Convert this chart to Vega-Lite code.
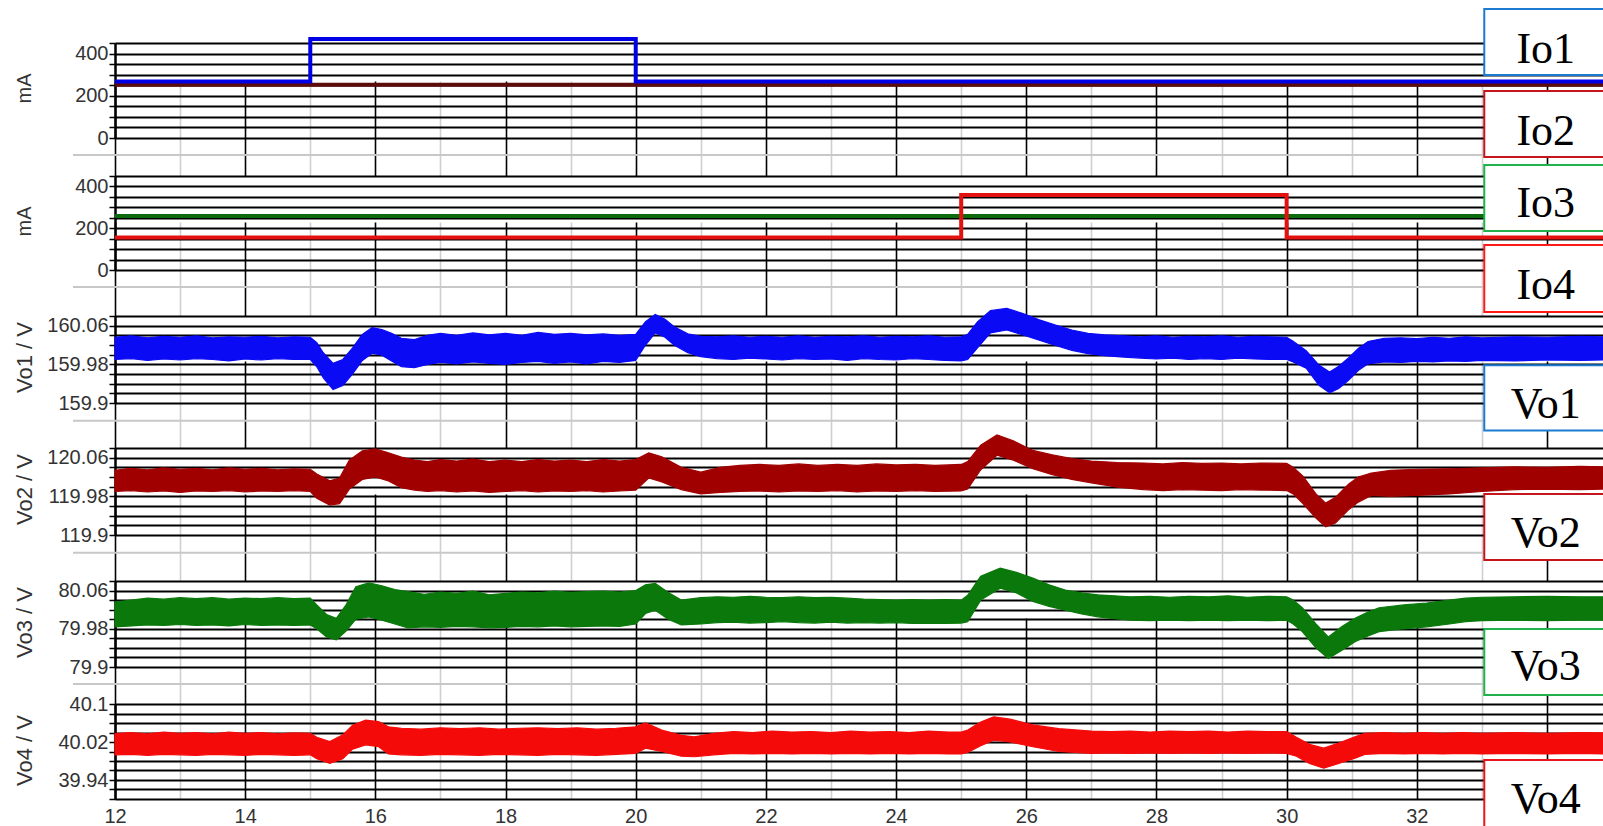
{
  "$schema": "https://vega.github.io/schema/vega-lite/v6.json",
  "autosize": {"type": "none"},
  "padding": {"left": 115, "top": 43, "right": 1488, "bottom": 783},
  "background": "white",
  "config": {
    "view": {"stroke": null},
    "axisY": {
      "grid": true, "gridColor": "#000", "gridWidth": 1.8,
      "domainColor": "#000", "domainWidth": 2.5,
      "tickColor": "#000", "tickWidth": 1.5, "tickSize": 6,
      "labelFont": "Liberation Sans, Arial, sans-serif",
      "labelFontSize": 20, "labelColor": "#333", "labelPadding": 1,
      "labelOverlap": false, "labelFlush": false,
      "titleFont": "Liberation Sans, Arial, sans-serif", "titleFontSize": 22,
      "titleFontWeight": "normal", "titleColor": "#333",
      "titleAngle": -90, "titleX": -101, "titleAlign": "center", "titleBaseline": "top"
    },
    "axisX": {
      "grid": true, "gridWidth": 1.6, "ticks": false, "tickSize": 0, "domain": false,
      "labelFont": "Liberation Sans, Arial, sans-serif",
      "labelFontSize": 20, "labelColor": "#333", "labelPadding": 7,
      "labelOverlap": false, "labelFlush": false, "format": "d"
    }
  },
  "datasets": {
    "cur": [
      {"s": "Io2", "t": 12, "v": 252}, {"s": "Io2", "t": 34.86, "v": 252},
      {"s": "Io1", "t": 12, "v": 268}, {"s": "Io1", "t": 15, "v": 469}, {"s": "Io1", "t": 20, "v": 268}, {"s": "Io1", "t": 34.86, "v": 268},
      {"s": "Io3", "t": 12, "v": 258}, {"s": "Io3", "t": 34.86, "v": 258},
      {"s": "Io4", "t": 12, "v": 156}, {"s": "Io4", "t": 25, "v": 359}, {"s": "Io4", "t": 30, "v": 156}, {"s": "Io4", "t": 34.86, "v": 156}
    ],
    "vo": [
      {"s":"Vo1","t":12,"lo":159.990,"hi":160.036},{"s":"Vo1","t":12.25,"lo":159.992,"hi":160.039},{"s":"Vo1","t":12.5,"lo":159.988,"hi":160.035},{"s":"Vo1","t":12.75,"lo":159.991,"hi":160.038},
      {"s":"Vo1","t":13,"lo":159.989,"hi":160.036},{"s":"Vo1","t":13.25,"lo":159.992,"hi":160.039},{"s":"Vo1","t":13.5,"lo":159.990,"hi":160.035},{"s":"Vo1","t":13.75,"lo":159.987,"hi":160.037},
      {"s":"Vo1","t":14,"lo":159.991,"hi":160.036},{"s":"Vo1","t":14.25,"lo":159.989,"hi":160.038},{"s":"Vo1","t":14.5,"lo":159.992,"hi":160.035},{"s":"Vo1","t":14.75,"lo":159.990,"hi":160.037},
      {"s":"Vo1","t":15,"lo":159.990,"hi":160.036},{"s":"Vo1","t":15.1,"lo":159.975,"hi":160.025},{"s":"Vo1","t":15.2,"lo":159.952,"hi":160.004},{"s":"Vo1","t":15.35,"lo":159.928,"hi":159.982},
      {"s":"Vo1","t":15.5,"lo":159.936,"hi":159.990},{"s":"Vo1","t":15.65,"lo":159.960,"hi":160.014},{"s":"Vo1","t":15.8,"lo":159.988,"hi":160.042},{"s":"Vo1","t":15.95,"lo":160.003,"hi":160.056},
      {"s":"Vo1","t":16.1,"lo":159.999,"hi":160.052},{"s":"Vo1","t":16.25,"lo":159.987,"hi":160.044},{"s":"Vo1","t":16.4,"lo":159.975,"hi":160.034},{"s":"Vo1","t":16.6,"lo":159.973,"hi":160.031},
      {"s":"Vo1","t":16.8,"lo":159.980,"hi":160.040},{"s":"Vo1","t":17,"lo":159.984,"hi":160.044},{"s":"Vo1","t":17.25,"lo":159.981,"hi":160.040},{"s":"Vo1","t":17.5,"lo":159.985,"hi":160.045},
      {"s":"Vo1","t":17.75,"lo":159.982,"hi":160.041},{"s":"Vo1","t":18,"lo":159.980,"hi":160.044},{"s":"Vo1","t":18.25,"lo":159.984,"hi":160.040},{"s":"Vo1","t":18.5,"lo":159.986,"hi":160.046},
      {"s":"Vo1","t":18.75,"lo":159.982,"hi":160.042},{"s":"Vo1","t":19,"lo":159.985,"hi":160.044},{"s":"Vo1","t":19.25,"lo":159.981,"hi":160.041},{"s":"Vo1","t":19.5,"lo":159.986,"hi":160.043},
      {"s":"Vo1","t":19.75,"lo":159.984,"hi":160.040},{"s":"Vo1","t":20,"lo":159.988,"hi":160.042},{"s":"Vo1","t":20.15,"lo":160.020,"hi":160.068},{"s":"Vo1","t":20.3,"lo":160.045,"hi":160.083},
      {"s":"Vo1","t":20.45,"lo":160.036,"hi":160.073},{"s":"Vo1","t":20.6,"lo":160.019,"hi":160.057},{"s":"Vo1","t":20.8,"lo":160.004,"hi":160.043},{"s":"Vo1","t":21,"lo":159.996,"hi":160.038},
      {"s":"Vo1","t":21.25,"lo":159.992,"hi":160.037},{"s":"Vo1","t":21.5,"lo":159.990,"hi":160.039},{"s":"Vo1","t":21.75,"lo":159.993,"hi":160.036},{"s":"Vo1","t":22,"lo":159.991,"hi":160.038},
      {"s":"Vo1","t":22.25,"lo":159.989,"hi":160.036},{"s":"Vo1","t":22.5,"lo":159.992,"hi":160.039},{"s":"Vo1","t":22.75,"lo":159.990,"hi":160.036},{"s":"Vo1","t":23,"lo":159.991,"hi":160.038},
      {"s":"Vo1","t":23.25,"lo":159.988,"hi":160.037},{"s":"Vo1","t":23.5,"lo":159.992,"hi":160.039},{"s":"Vo1","t":23.75,"lo":159.990,"hi":160.036},{"s":"Vo1","t":24,"lo":159.989,"hi":160.038},
      {"s":"Vo1","t":24.25,"lo":159.992,"hi":160.037},{"s":"Vo1","t":24.5,"lo":159.990,"hi":160.039},{"s":"Vo1","t":24.75,"lo":159.988,"hi":160.036},{"s":"Vo1","t":25,"lo":159.987,"hi":160.037},
      {"s":"Vo1","t":25.1,"lo":159.990,"hi":160.042},{"s":"Vo1","t":25.25,"lo":160.014,"hi":160.068},{"s":"Vo1","t":25.45,"lo":160.045,"hi":160.091},{"s":"Vo1","t":25.7,"lo":160.051,"hi":160.096},
      {"s":"Vo1","t":25.95,"lo":160.041,"hi":160.085},{"s":"Vo1","t":26.2,"lo":160.030,"hi":160.072},{"s":"Vo1","t":26.45,"lo":160.019,"hi":160.061},{"s":"Vo1","t":26.7,"lo":160.009,"hi":160.051},
      {"s":"Vo1","t":26.95,"lo":160.002,"hi":160.044},{"s":"Vo1","t":27.2,"lo":159.998,"hi":160.041},{"s":"Vo1","t":27.5,"lo":159.995,"hi":160.039},{"s":"Vo1","t":27.75,"lo":159.993,"hi":160.037},
      {"s":"Vo1","t":28,"lo":159.991,"hi":160.039},{"s":"Vo1","t":28.25,"lo":159.993,"hi":160.036},{"s":"Vo1","t":28.5,"lo":159.990,"hi":160.038},{"s":"Vo1","t":28.75,"lo":159.992,"hi":160.037},
      {"s":"Vo1","t":29,"lo":159.990,"hi":160.039},{"s":"Vo1","t":29.25,"lo":159.993,"hi":160.036},{"s":"Vo1","t":29.5,"lo":159.991,"hi":160.038},{"s":"Vo1","t":29.75,"lo":159.990,"hi":160.037},
      {"s":"Vo1","t":30,"lo":159.990,"hi":160.036},{"s":"Vo1","t":30.1,"lo":159.985,"hi":160.028},{"s":"Vo1","t":30.3,"lo":159.972,"hi":160.008},{"s":"Vo1","t":30.5,"lo":159.936,"hi":159.978},
      {"s":"Vo1","t":30.66,"lo":159.921,"hi":159.964},{"s":"Vo1","t":30.8,"lo":159.930,"hi":159.976},{"s":"Vo1","t":30.95,"lo":159.947,"hi":159.993},{"s":"Vo1","t":31.1,"lo":159.967,"hi":160.013},
      {"s":"Vo1","t":31.25,"lo":159.981,"hi":160.027},{"s":"Vo1","t":31.5,"lo":159.985,"hi":160.034},{"s":"Vo1","t":31.75,"lo":159.984,"hi":160.035},{"s":"Vo1","t":32,"lo":159.986,"hi":160.033},
      {"s":"Vo1","t":32.25,"lo":159.985,"hi":160.036},{"s":"Vo1","t":32.5,"lo":159.987,"hi":160.034},{"s":"Vo1","t":32.75,"lo":159.986,"hi":160.037},{"s":"Vo1","t":33,"lo":159.988,"hi":160.035},
      {"s":"Vo1","t":33.5,"lo":159.987,"hi":160.037},{"s":"Vo1","t":34,"lo":159.989,"hi":160.036},{"s":"Vo1","t":34.5,"lo":159.988,"hi":160.038},{"s":"Vo1","t":34.86,"lo":159.989,"hi":160.037},

      {"s":"Vo2","t":12,"lo":119.990,"hi":120.034},{"s":"Vo2","t":12.25,"lo":119.992,"hi":120.038},{"s":"Vo2","t":12.5,"lo":119.989,"hi":120.035},{"s":"Vo2","t":12.75,"lo":119.991,"hi":120.039},
      {"s":"Vo2","t":13,"lo":119.988,"hi":120.036},{"s":"Vo2","t":13.25,"lo":119.991,"hi":120.038},{"s":"Vo2","t":13.5,"lo":119.990,"hi":120.035},{"s":"Vo2","t":13.75,"lo":119.992,"hi":120.039},
      {"s":"Vo2","t":14,"lo":119.989,"hi":120.036},{"s":"Vo2","t":14.25,"lo":119.991,"hi":120.038},{"s":"Vo2","t":14.5,"lo":119.990,"hi":120.035},{"s":"Vo2","t":14.75,"lo":119.992,"hi":120.037},
      {"s":"Vo2","t":15,"lo":119.990,"hi":120.036},{"s":"Vo2","t":15.1,"lo":119.976,"hi":120.026},{"s":"Vo2","t":15.3,"lo":119.962,"hi":120.012},{"s":"Vo2","t":15.45,"lo":119.965,"hi":120.018},
      {"s":"Vo2","t":15.6,"lo":119.995,"hi":120.055},{"s":"Vo2","t":15.8,"lo":120.015,"hi":120.074},{"s":"Vo2","t":16,"lo":120.020,"hi":120.078},{"s":"Vo2","t":16.2,"lo":120.012,"hi":120.070},
      {"s":"Vo2","t":16.4,"lo":119.998,"hi":120.061},{"s":"Vo2","t":16.6,"lo":119.993,"hi":120.055},{"s":"Vo2","t":16.8,"lo":119.990,"hi":120.052},{"s":"Vo2","t":17,"lo":119.992,"hi":120.056},
      {"s":"Vo2","t":17.25,"lo":119.989,"hi":120.053},{"s":"Vo2","t":17.5,"lo":119.991,"hi":120.057},{"s":"Vo2","t":17.75,"lo":119.988,"hi":120.052},{"s":"Vo2","t":18,"lo":119.990,"hi":120.055},
      {"s":"Vo2","t":18.25,"lo":119.992,"hi":120.052},{"s":"Vo2","t":18.5,"lo":119.989,"hi":120.056},{"s":"Vo2","t":18.75,"lo":119.991,"hi":120.053},{"s":"Vo2","t":19,"lo":119.990,"hi":120.055},
      {"s":"Vo2","t":19.25,"lo":119.992,"hi":120.052},{"s":"Vo2","t":19.5,"lo":119.989,"hi":120.056},{"s":"Vo2","t":19.75,"lo":119.991,"hi":120.053},{"s":"Vo2","t":20,"lo":119.993,"hi":120.056},
      {"s":"Vo2","t":20.2,"lo":120.018,"hi":120.070},{"s":"Vo2","t":20.4,"lo":120.010,"hi":120.062},{"s":"Vo2","t":20.7,"lo":119.994,"hi":120.040},{"s":"Vo2","t":21,"lo":119.985,"hi":120.030},
      {"s":"Vo2","t":21.3,"lo":119.988,"hi":120.040},{"s":"Vo2","t":21.6,"lo":119.990,"hi":120.044},{"s":"Vo2","t":21.9,"lo":119.991,"hi":120.046},{"s":"Vo2","t":22.2,"lo":119.989,"hi":120.044},
      {"s":"Vo2","t":22.5,"lo":119.991,"hi":120.047},{"s":"Vo2","t":22.8,"lo":119.990,"hi":120.044},{"s":"Vo2","t":23.1,"lo":119.992,"hi":120.046},{"s":"Vo2","t":23.4,"lo":119.989,"hi":120.044},
      {"s":"Vo2","t":23.7,"lo":119.991,"hi":120.047},{"s":"Vo2","t":24,"lo":119.990,"hi":120.045},{"s":"Vo2","t":24.3,"lo":119.992,"hi":120.046},{"s":"Vo2","t":24.6,"lo":119.990,"hi":120.044},
      {"s":"Vo2","t":25,"lo":119.991,"hi":120.046},{"s":"Vo2","t":25.1,"lo":119.995,"hi":120.052},{"s":"Vo2","t":25.3,"lo":120.035,"hi":120.086},{"s":"Vo2","t":25.55,"lo":120.065,"hi":120.107},
      {"s":"Vo2","t":25.8,"lo":120.055,"hi":120.095},{"s":"Vo2","t":26.1,"lo":120.037,"hi":120.075},{"s":"Vo2","t":26.4,"lo":120.025,"hi":120.066},{"s":"Vo2","t":26.7,"lo":120.015,"hi":120.058},
      {"s":"Vo2","t":27,"lo":120.008,"hi":120.053},{"s":"Vo2","t":27.4,"lo":119.999,"hi":120.050},{"s":"Vo2","t":27.8,"lo":119.994,"hi":120.049},{"s":"Vo2","t":28.1,"lo":119.992,"hi":120.047},
      {"s":"Vo2","t":28.4,"lo":119.994,"hi":120.050},{"s":"Vo2","t":28.7,"lo":119.993,"hi":120.048},{"s":"Vo2","t":29,"lo":119.992,"hi":120.049},{"s":"Vo2","t":29.3,"lo":119.994,"hi":120.047},
      {"s":"Vo2","t":29.6,"lo":119.993,"hi":120.049},{"s":"Vo2","t":30,"lo":119.992,"hi":120.048},{"s":"Vo2","t":30.1,"lo":119.985,"hi":120.040},{"s":"Vo2","t":30.25,"lo":119.965,"hi":120.022},
      {"s":"Vo2","t":30.45,"lo":119.935,"hi":119.985},{"s":"Vo2","t":30.6,"lo":119.917,"hi":119.966},{"s":"Vo2","t":30.75,"lo":119.925,"hi":119.978},{"s":"Vo2","t":30.95,"lo":119.952,"hi":120.005},
      {"s":"Vo2","t":31.1,"lo":119.968,"hi":120.020},{"s":"Vo2","t":31.3,"lo":119.982,"hi":120.028},{"s":"Vo2","t":31.6,"lo":119.980,"hi":120.034},{"s":"Vo2","t":32,"lo":119.982,"hi":120.036},
      {"s":"Vo2","t":32.5,"lo":119.985,"hi":120.037},{"s":"Vo2","t":33,"lo":119.990,"hi":120.039},{"s":"Vo2","t":33.5,"lo":119.994,"hi":120.041},{"s":"Vo2","t":34,"lo":119.995,"hi":120.040},
      {"s":"Vo2","t":34.5,"lo":119.994,"hi":120.042},{"s":"Vo2","t":34.86,"lo":119.995,"hi":120.041},

      {"s":"Vo3","t":12,"lo":79.984,"hi":80.036},{"s":"Vo3","t":12.25,"lo":79.986,"hi":80.040},{"s":"Vo3","t":12.5,"lo":79.988,"hi":80.044},{"s":"Vo3","t":12.75,"lo":79.987,"hi":80.042},
      {"s":"Vo3","t":13,"lo":79.989,"hi":80.045},{"s":"Vo3","t":13.25,"lo":79.987,"hi":80.043},{"s":"Vo3","t":13.5,"lo":79.988,"hi":80.045},{"s":"Vo3","t":13.75,"lo":79.986,"hi":80.042},
      {"s":"Vo3","t":14,"lo":79.989,"hi":80.044},{"s":"Vo3","t":14.25,"lo":79.987,"hi":80.043},{"s":"Vo3","t":14.5,"lo":79.988,"hi":80.045},{"s":"Vo3","t":14.75,"lo":79.987,"hi":80.043},
      {"s":"Vo3","t":15,"lo":79.988,"hi":80.044},{"s":"Vo3","t":15.1,"lo":79.980,"hi":80.030},{"s":"Vo3","t":15.25,"lo":79.963,"hi":80.010},{"s":"Vo3","t":15.4,"lo":79.957,"hi":80.002},
      {"s":"Vo3","t":15.55,"lo":79.975,"hi":80.030},{"s":"Vo3","t":15.7,"lo":80.000,"hi":80.068},{"s":"Vo3","t":15.9,"lo":80.005,"hi":80.076},{"s":"Vo3","t":16.1,"lo":79.998,"hi":80.070},
      {"s":"Vo3","t":16.3,"lo":79.990,"hi":80.062},{"s":"Vo3","t":16.5,"lo":79.982,"hi":80.058},{"s":"Vo3","t":16.75,"lo":79.984,"hi":80.052},{"s":"Vo3","t":17,"lo":79.983,"hi":80.057},
      {"s":"Vo3","t":17.25,"lo":79.985,"hi":80.054},{"s":"Vo3","t":17.5,"lo":79.984,"hi":80.059},{"s":"Vo3","t":17.75,"lo":79.982,"hi":80.051},{"s":"Vo3","t":18,"lo":79.983,"hi":80.054},
      {"s":"Vo3","t":18.25,"lo":79.985,"hi":80.057},{"s":"Vo3","t":18.5,"lo":79.984,"hi":80.055},{"s":"Vo3","t":18.75,"lo":79.986,"hi":80.059},{"s":"Vo3","t":19,"lo":79.984,"hi":80.056},
      {"s":"Vo3","t":19.25,"lo":79.985,"hi":80.058},{"s":"Vo3","t":19.5,"lo":79.986,"hi":80.059},{"s":"Vo3","t":19.75,"lo":79.985,"hi":80.057},{"s":"Vo3","t":20,"lo":79.990,"hi":80.060},
      {"s":"Vo3","t":20.15,"lo":80.012,"hi":80.072},{"s":"Vo3","t":20.3,"lo":80.019,"hi":80.075},{"s":"Vo3","t":20.5,"lo":80.000,"hi":80.056},{"s":"Vo3","t":20.7,"lo":79.988,"hi":80.040},
      {"s":"Vo3","t":21,"lo":79.990,"hi":80.045},{"s":"Vo3","t":21.25,"lo":79.993,"hi":80.047},{"s":"Vo3","t":21.5,"lo":79.994,"hi":80.046},{"s":"Vo3","t":21.75,"lo":79.992,"hi":80.048},
      {"s":"Vo3","t":22,"lo":79.993,"hi":80.046},{"s":"Vo3","t":22.25,"lo":79.995,"hi":80.045},{"s":"Vo3","t":22.5,"lo":79.993,"hi":80.047},{"s":"Vo3","t":22.75,"lo":79.992,"hi":80.045},
      {"s":"Vo3","t":23,"lo":79.994,"hi":80.046},{"s":"Vo3","t":23.25,"lo":79.992,"hi":80.044},{"s":"Vo3","t":23.5,"lo":79.993,"hi":80.042},{"s":"Vo3","t":23.75,"lo":79.992,"hi":80.041},
      {"s":"Vo3","t":24,"lo":79.993,"hi":80.040},{"s":"Vo3","t":24.25,"lo":79.991,"hi":80.041},{"s":"Vo3","t":24.5,"lo":79.992,"hi":80.040},{"s":"Vo3","t":24.75,"lo":79.991,"hi":80.041},
      {"s":"Vo3","t":25,"lo":79.992,"hi":80.040},{"s":"Vo3","t":25.1,"lo":79.995,"hi":80.050},{"s":"Vo3","t":25.3,"lo":80.040,"hi":80.090},{"s":"Vo3","t":25.6,"lo":80.065,"hi":80.107},
      {"s":"Vo3","t":25.85,"lo":80.055,"hi":80.098},{"s":"Vo3","t":26.1,"lo":80.037,"hi":80.086},{"s":"Vo3","t":26.35,"lo":80.027,"hi":80.072},{"s":"Vo3","t":26.6,"lo":80.019,"hi":80.061},
      {"s":"Vo3","t":26.85,"lo":80.011,"hi":80.055},{"s":"Vo3","t":27.1,"lo":80.005,"hi":80.051},{"s":"Vo3","t":27.35,"lo":80.001,"hi":80.049},{"s":"Vo3","t":27.6,"lo":79.998,"hi":80.047},
      {"s":"Vo3","t":27.9,"lo":79.997,"hi":80.048},{"s":"Vo3","t":28.2,"lo":79.998,"hi":80.046},{"s":"Vo3","t":28.5,"lo":79.997,"hi":80.048},{"s":"Vo3","t":28.8,"lo":79.998,"hi":80.047},
      {"s":"Vo3","t":29.1,"lo":79.997,"hi":80.049},{"s":"Vo3","t":29.4,"lo":79.998,"hi":80.046},{"s":"Vo3","t":29.7,"lo":79.997,"hi":80.048},{"s":"Vo3","t":30,"lo":79.998,"hi":80.047},
      {"s":"Vo3","t":30.1,"lo":79.990,"hi":80.040},{"s":"Vo3","t":30.24,"lo":79.974,"hi":80.024},{"s":"Vo3","t":30.45,"lo":79.940,"hi":79.990},{"s":"Vo3","t":30.64,"lo":79.918,"hi":79.963},
      {"s":"Vo3","t":30.85,"lo":79.935,"hi":79.985},{"s":"Vo3","t":31.05,"lo":79.953,"hi":80.002},{"s":"Vo3","t":31.25,"lo":79.965,"hi":80.015},{"s":"Vo3","t":31.42,"lo":79.974,"hi":80.024},
      {"s":"Vo3","t":31.8,"lo":79.980,"hi":80.030},{"s":"Vo3","t":32.15,"lo":79.984,"hi":80.034},{"s":"Vo3","t":32.5,"lo":79.990,"hi":80.040},{"s":"Vo3","t":32.75,"lo":79.995,"hi":80.044},
      {"s":"Vo3","t":33,"lo":79.997,"hi":80.046},{"s":"Vo3","t":33.5,"lo":79.998,"hi":80.047},{"s":"Vo3","t":34,"lo":79.997,"hi":80.048},{"s":"Vo3","t":34.5,"lo":79.998,"hi":80.047},
      {"s":"Vo3","t":34.86,"lo":79.998,"hi":80.047},

      {"s":"Vo4","t":12,"lo":39.993,"hi":40.038},{"s":"Vo4","t":12.25,"lo":39.994,"hi":40.040},{"s":"Vo4","t":12.5,"lo":39.992,"hi":40.037},{"s":"Vo4","t":12.75,"lo":39.994,"hi":40.041},
      {"s":"Vo4","t":13,"lo":39.993,"hi":40.038},{"s":"Vo4","t":13.25,"lo":39.992,"hi":40.040},{"s":"Vo4","t":13.5,"lo":39.994,"hi":40.037},{"s":"Vo4","t":13.75,"lo":39.993,"hi":40.041},
      {"s":"Vo4","t":14,"lo":39.992,"hi":40.038},{"s":"Vo4","t":14.25,"lo":39.994,"hi":40.040},{"s":"Vo4","t":14.5,"lo":39.993,"hi":40.037},{"s":"Vo4","t":14.75,"lo":39.992,"hi":40.039},
      {"s":"Vo4","t":15,"lo":39.993,"hi":40.038},{"s":"Vo4","t":15.1,"lo":39.985,"hi":40.030},{"s":"Vo4","t":15.3,"lo":39.975,"hi":40.021},{"s":"Vo4","t":15.5,"lo":39.985,"hi":40.035},
      {"s":"Vo4","t":15.65,"lo":40.005,"hi":40.055},{"s":"Vo4","t":15.85,"lo":40.014,"hi":40.066},{"s":"Vo4","t":16.05,"lo":40.010,"hi":40.063},{"s":"Vo4","t":16.2,"lo":39.995,"hi":40.052},
      {"s":"Vo4","t":16.4,"lo":39.993,"hi":40.049},{"s":"Vo4","t":16.7,"lo":39.992,"hi":40.047},{"s":"Vo4","t":17,"lo":39.994,"hi":40.050},{"s":"Vo4","t":17.3,"lo":39.993,"hi":40.048},
      {"s":"Vo4","t":17.6,"lo":39.992,"hi":40.050},{"s":"Vo4","t":17.9,"lo":39.994,"hi":40.047},{"s":"Vo4","t":18.2,"lo":39.993,"hi":40.049},{"s":"Vo4","t":18.5,"lo":39.992,"hi":40.050},
      {"s":"Vo4","t":18.8,"lo":39.994,"hi":40.048},{"s":"Vo4","t":19.1,"lo":39.993,"hi":40.050},{"s":"Vo4","t":19.4,"lo":39.992,"hi":40.047},{"s":"Vo4","t":19.7,"lo":39.994,"hi":40.049},
      {"s":"Vo4","t":20,"lo":39.996,"hi":40.052},{"s":"Vo4","t":20.15,"lo":40.007,"hi":40.060},{"s":"Vo4","t":20.4,"lo":40.000,"hi":40.045},{"s":"Vo4","t":20.7,"lo":39.990,"hi":40.034},
      {"s":"Vo4","t":20.9,"lo":39.989,"hi":40.031},{"s":"Vo4","t":21.2,"lo":39.993,"hi":40.038},{"s":"Vo4","t":21.5,"lo":39.996,"hi":40.042},{"s":"Vo4","t":21.8,"lo":39.995,"hi":40.040},
      {"s":"Vo4","t":22.1,"lo":39.996,"hi":40.043},{"s":"Vo4","t":22.4,"lo":39.995,"hi":40.041},{"s":"Vo4","t":22.7,"lo":39.996,"hi":40.042},{"s":"Vo4","t":23,"lo":39.995,"hi":40.040},
      {"s":"Vo4","t":23.3,"lo":39.996,"hi":40.043},{"s":"Vo4","t":23.6,"lo":39.995,"hi":40.041},{"s":"Vo4","t":23.9,"lo":39.996,"hi":40.042},{"s":"Vo4","t":24.2,"lo":39.995,"hi":40.040},
      {"s":"Vo4","t":24.5,"lo":39.996,"hi":40.043},{"s":"Vo4","t":24.8,"lo":39.995,"hi":40.041},{"s":"Vo4","t":25,"lo":39.995,"hi":40.041},{"s":"Vo4","t":25.1,"lo":39.998,"hi":40.045},
      {"s":"Vo4","t":25.3,"lo":40.012,"hi":40.062},{"s":"Vo4","t":25.5,"lo":40.024,"hi":40.073},{"s":"Vo4","t":25.75,"lo":40.020,"hi":40.068},{"s":"Vo4","t":26.1,"lo":40.010,"hi":40.056},
      {"s":"Vo4","t":26.5,"lo":40.000,"hi":40.048},{"s":"Vo4","t":27,"lo":39.996,"hi":40.043},{"s":"Vo4","t":27.3,"lo":39.997,"hi":40.042},{"s":"Vo4","t":27.6,"lo":39.996,"hi":40.043},
      {"s":"Vo4","t":27.9,"lo":39.997,"hi":40.041},{"s":"Vo4","t":28.2,"lo":39.996,"hi":40.043},{"s":"Vo4","t":28.5,"lo":39.997,"hi":40.042},{"s":"Vo4","t":28.8,"lo":39.996,"hi":40.043},
      {"s":"Vo4","t":29.1,"lo":39.997,"hi":40.041},{"s":"Vo4","t":29.4,"lo":39.996,"hi":40.043},{"s":"Vo4","t":29.7,"lo":39.997,"hi":40.042},{"s":"Vo4","t":30,"lo":39.996,"hi":40.042},
      {"s":"Vo4","t":30.15,"lo":39.990,"hi":40.030},{"s":"Vo4","t":30.35,"lo":39.975,"hi":40.015},{"s":"Vo4","t":30.57,"lo":39.965,"hi":40.007},{"s":"Vo4","t":30.8,"lo":39.975,"hi":40.018},
      {"s":"Vo4","t":31.05,"lo":39.986,"hi":40.031},{"s":"Vo4","t":31.2,"lo":39.994,"hi":40.038},{"s":"Vo4","t":31.5,"lo":39.996,"hi":40.040},{"s":"Vo4","t":31.8,"lo":39.995,"hi":40.038},
      {"s":"Vo4","t":32.1,"lo":39.996,"hi":40.040},{"s":"Vo4","t":32.4,"lo":39.995,"hi":40.038},{"s":"Vo4","t":32.7,"lo":39.996,"hi":40.040},{"s":"Vo4","t":33,"lo":39.995,"hi":40.038},
      {"s":"Vo4","t":33.5,"lo":39.996,"hi":40.040},{"s":"Vo4","t":34,"lo":39.995,"hi":40.038},{"s":"Vo4","t":34.5,"lo":39.996,"hi":40.040},{"s":"Vo4","t":34.86,"lo":39.995,"hi":40.039}
    ]
  },
  "spacing": 0,
  "bounds": "flush",
  "vconcat": [
    {
      "width": 1488, "height": 133,
      "layer": [
        {
          "data": {"name": "cur"},
          "transform": [{"filter": "datum.s === 'Io2'"}],
          "mark": {"type": "line", "interpolate": "step-after", "color": "#5e0b0b", "strokeWidth": 4},
          "encoding": {
            "x": {"field": "t", "type": "quantitative", "scale": {"domain": [12, 34.86], "nice": false, "zero": false},
              "axis": {"values": [12,13,14,15,16,17,18,19,20,21,22,23,24,25,26,27,28,29,30,31,32,33,34], "tickCount": 100, "labels": false, "offset": -38, "title": null,
                "gridColor": {"condition": {"test": "datum.value % 2 === 0", "value": "#000"}, "value": "#cfcfcf"}}},
            "y": {"field": "v", "type": "quantitative", "scale": {"domain": [0, 450], "range": [95, 0], "nice": false, "zero": false},
              "axis": {"title": "mA", "titleFontSize": 20, "titleY": 45, "values": [0,50,100,150,200,250,300,350,400,450], "tickCount": 100, "format": "d", "labelExpr": "datum.value % 200 === 0 ? datum.label : ''"}}
          }
        },
        {
          "data": {"name": "cur"},
          "transform": [{"filter": "datum.s === 'Io1'"}],
          "mark": {"type": "line", "interpolate": "step-after", "color": "#0000e6", "strokeWidth": 4},
          "encoding": {"x": {"field": "t", "type": "quantitative"}, "y": {"field": "v", "type": "quantitative"}}
        },
        {
          "data": {"values": [{}]},
          "mark": {"type": "rule", "color": "#c8c8c8", "strokeWidth": 2},
          "encoding": {"x": {"datum": 11.355}, "x2": {"datum": 35.5}, "y": {"datum": -80.5}}
        },
        {
          "data": {"values": [{}]},
          "mark": {"type": "rect", "fill": "white", "stroke": "#1b7bd1", "strokeWidth": 2},
          "encoding": {"x": {"datum": 33.036}, "x2": {"datum": 35.5}, "y": {"datum": 611}, "y2": {"datum": 298.4}}
        },
        {
          "data": {"values": [{}]},
          "mark": {"type": "text", "text": "Io1", "font": "Liberation Serif, Times New Roman, serif", "fontSize": 44, "align": "center", "baseline": "alphabetic", "color": "#000"},
          "encoding": {"x": {"datum": 33.98}, "y": {"datum": 355.3}}
        },
        {
          "data": {"values": [{}]},
          "mark": {"type": "rect", "fill": "white", "stroke": "#c4161c", "strokeWidth": 2},
          "encoding": {"x": {"datum": 33.036}, "x2": {"datum": 35.5}, "y": {"datum": 222.6}, "y2": {"datum": -90}}
        },
        {
          "data": {"values": [{}]},
          "mark": {"type": "text", "text": "Io2", "font": "Liberation Serif, Times New Roman, serif", "fontSize": 44, "align": "center", "baseline": "alphabetic", "color": "#000"},
          "encoding": {"x": {"datum": 33.98}, "y": {"datum": -33.2}}
        }
      ]
    },
    {
      "width": 1488, "height": 140,
      "layer": [
        {
          "data": {"name": "cur"},
          "transform": [{"filter": "datum.s === 'Io3'"}],
          "mark": {"type": "line", "interpolate": "step-after", "color": "#0d6b0d", "strokeWidth": 4},
          "encoding": {
            "x": {"field": "t", "type": "quantitative", "scale": {"domain": [12, 34.86], "nice": false, "zero": false},
              "axis": {"values": [12,13,14,15,16,17,18,19,20,21,22,23,24,25,26,27,28,29,30,31,32,33,34], "tickCount": 100, "labels": false, "offset": -46, "title": null,
                "gridColor": {"condition": {"test": "datum.value % 2 === 0", "value": "#000"}, "value": "#cfcfcf"}}},
            "y": {"field": "v", "type": "quantitative", "scale": {"domain": [0, 450], "range": [94, 0], "nice": false, "zero": false},
              "axis": {"title": "mA", "titleFontSize": 20, "titleY": 45, "values": [0,50,100,150,200,250,300,350,400,450], "tickCount": 100, "format": "d", "labelExpr": "datum.value % 200 === 0 ? datum.label : ''"}}
          }
        },
        {
          "data": {"name": "cur"},
          "transform": [{"filter": "datum.s === 'Io4'"}],
          "mark": {"type": "line", "interpolate": "step-after", "color": "#e41111", "strokeWidth": 4},
          "encoding": {"x": {"field": "t", "type": "quantitative"}, "y": {"field": "v", "type": "quantitative"}}
        },
        {
          "data": {"values": [{}]},
          "mark": {"type": "rule", "color": "#c8c8c8", "strokeWidth": 2},
          "encoding": {"x": {"datum": 11.355}, "x2": {"datum": 35.5}, "y": {"datum": -81.4}}
        },
        {
          "data": {"values": [{}]},
          "mark": {"type": "rect", "fill": "white", "stroke": "#22b14c", "strokeWidth": 2},
          "encoding": {"x": {"datum": 33.036}, "x2": {"datum": 35.5}, "y": {"datum": 502.7}, "y2": {"datum": 186.7}}
        },
        {
          "data": {"values": [{}]},
          "mark": {"type": "text", "text": "Io3", "font": "Liberation Serif, Times New Roman, serif", "fontSize": 44, "align": "center", "baseline": "alphabetic", "color": "#000"},
          "encoding": {"x": {"datum": 33.98}, "y": {"datum": 253.7}}
        },
        {
          "data": {"values": [{}]},
          "mark": {"type": "rect", "fill": "white", "stroke": "#ff1a1a", "strokeWidth": 2},
          "encoding": {"x": {"datum": 33.036}, "x2": {"datum": 35.5}, "y": {"datum": 119.7}, "y2": {"datum": -201}}
        },
        {
          "data": {"values": [{}]},
          "mark": {"type": "text", "text": "Io4", "font": "Liberation Serif, Times New Roman, serif", "fontSize": 44, "align": "center", "baseline": "alphabetic", "color": "#000"},
          "encoding": {"x": {"datum": 33.98}, "y": {"datum": -138.8}}
        }
      ]
    },
    {
      "width": 1488, "height": 132,
      "layer": [
        {
          "data": {"name": "vo"},
          "transform": [{"filter": "datum.s === 'Vo1'"}],
          "mark": {"type": "area", "color": "#0a0af5", "stroke": "#0a0af5", "strokeWidth": 1.2},
          "encoding": {
            "x": {"field": "t", "type": "quantitative", "scale": {"domain": [12, 34.86], "nice": false, "zero": false},
              "axis": {"values": [12,13,14,15,16,17,18,19,20,21,22,23,24,25,26,27,28,29,30,31,32,33,34], "tickCount": 100, "labels": false, "offset": -45, "title": null,
                "gridColor": {"condition": {"test": "datum.value % 2 === 0", "value": "#000"}, "value": "#cfcfcf"}}},
            "y": {"field": "lo", "type": "quantitative", "scale": {"domain": [159.9, 160.08], "range": [87, 0], "nice": false, "zero": false},
              "axis": {"title": "Vo1 / V", "titleY": 41, "values": [159.9,159.92,159.94,159.96,159.98,160,160.02,160.04,160.06,160.08], "tickCount": 100, "format": ".2~f", "labelExpr": "indexof(['159.9','159.98','160.06'], datum.label) >= 0 ? datum.label : ''"}},
            "y2": {"field": "hi"}
          }
        },
        {
          "data": {"values": [{}]},
          "mark": {"type": "rule", "color": "#c8c8c8", "strokeWidth": 2},
          "encoding": {"x": {"datum": 11.355}, "x2": {"datum": 35.5}, "y": {"datum": 159.8634}}
        },
        {
          "data": {"values": [{}]},
          "mark": {"type": "rect", "fill": "white", "stroke": "#1b7bd1", "strokeWidth": 2},
          "encoding": {"x": {"datum": 33.036}, "x2": {"datum": 35.5}, "y": {"datum": 159.9783}, "y2": {"datum": 159.8433}}
        },
        {
          "data": {"values": [{}]},
          "mark": {"type": "text", "text": "Vo1", "font": "Liberation Serif, Times New Roman, serif", "fontSize": 44, "align": "center", "baseline": "alphabetic", "color": "#000"},
          "encoding": {"x": {"datum": 33.98}, "y": {"datum": 159.8682}}
        }
      ]
    },
    {
      "width": 1488, "height": 133,
      "layer": [
        {
          "data": {"name": "vo"},
          "transform": [{"filter": "datum.s === 'Vo2'"}],
          "mark": {"type": "area", "color": "#a00000", "stroke": "#a00000", "strokeWidth": 1.2},
          "encoding": {
            "x": {"field": "t", "type": "quantitative", "scale": {"domain": [12, 34.86], "nice": false, "zero": false},
              "axis": {"values": [12,13,14,15,16,17,18,19,20,21,22,23,24,25,26,27,28,29,30,31,32,33,34], "tickCount": 100, "labels": false, "offset": -46, "title": null,
                "gridColor": {"condition": {"test": "datum.value % 2 === 0", "value": "#000"}, "value": "#cfcfcf"}}},
            "y": {"field": "lo", "type": "quantitative", "scale": {"domain": [119.9, 120.08], "range": [87, 0], "nice": false, "zero": false},
              "axis": {"title": "Vo2 / V", "titleY": 41, "values": [119.9,119.92,119.94,119.96,119.98,120,120.02,120.04,120.06,120.08], "tickCount": 100, "format": ".2~f", "labelExpr": "indexof(['119.9','119.98','120.06'], datum.label) >= 0 ? datum.label : ''"}},
            "y2": {"field": "hi"}
          }
        },
        {
          "data": {"values": [{}]},
          "mark": {"type": "rule", "color": "#c8c8c8", "strokeWidth": 2},
          "encoding": {"x": {"datum": 11.355}, "x2": {"datum": 35.5}, "y": {"datum": 119.8634}}
        },
        {
          "data": {"values": [{}]},
          "mark": {"type": "rect", "fill": "white", "stroke": "#c4161c", "strokeWidth": 2},
          "encoding": {"x": {"datum": 33.036}, "x2": {"datum": 35.5}, "y": {"datum": 119.9848}, "y2": {"datum": 119.8483}}
        },
        {
          "data": {"values": [{}]},
          "mark": {"type": "text", "text": "Vo2", "font": "Liberation Serif, Times New Roman, serif", "fontSize": 44, "align": "center", "baseline": "alphabetic", "color": "#000"},
          "encoding": {"x": {"datum": 33.98}, "y": {"datum": 119.8752}}
        }
      ]
    },
    {
      "width": 1488, "height": 123,
      "layer": [
        {
          "data": {"name": "vo"},
          "transform": [{"filter": "datum.s === 'Vo3'"}],
          "mark": {"type": "area", "color": "#0a780a", "stroke": "#0a780a", "strokeWidth": 1.2},
          "encoding": {
            "x": {"field": "t", "type": "quantitative", "scale": {"domain": [12, 34.86], "nice": false, "zero": false},
              "axis": {"values": [12,13,14,15,16,17,18,19,20,21,22,23,24,25,26,27,28,29,30,31,32,33,34], "tickCount": 100, "labels": false, "offset": -37, "title": null,
                "gridColor": {"condition": {"test": "datum.value % 2 === 0", "value": "#000"}, "value": "#cfcfcf"}}},
            "y": {"field": "lo", "type": "quantitative", "scale": {"domain": [79.9, 80.08], "range": [86, 0], "nice": false, "zero": false},
              "axis": {"title": "Vo3 / V", "titleY": 41, "values": [79.9,79.92,79.94,79.96,79.98,80,80.02,80.04,80.06,80.08], "tickCount": 100, "format": ".2~f", "labelExpr": "indexof(['79.9','79.98','80.06'], datum.label) >= 0 ? datum.label : ''"}},
            "y2": {"field": "hi"}
          }
        },
        {
          "data": {"values": [{}]},
          "mark": {"type": "rule", "color": "#c8c8c8", "strokeWidth": 2},
          "encoding": {"x": {"datum": 11.355}, "x2": {"datum": 35.5}, "y": {"datum": 79.8644}}
        },
        {
          "data": {"values": [{}]},
          "mark": {"type": "rect", "fill": "white", "stroke": "#22b14c", "strokeWidth": 2},
          "encoding": {"x": {"datum": 33.036}, "x2": {"datum": 35.5}, "y": {"datum": 79.9795}, "y2": {"datum": 79.8414}}
        },
        {
          "data": {"values": [{}]},
          "mark": {"type": "text", "text": "Vo3", "font": "Liberation Serif, Times New Roman, serif", "fontSize": 44, "align": "center", "baseline": "alphabetic", "color": "#000"},
          "encoding": {"x": {"datum": 33.98}, "y": {"datum": 79.8728}}
        }
      ]
    },
    {
      "width": 1488, "height": 95,
      "layer": [
        {
          "data": {"name": "vo"},
          "transform": [{"filter": "datum.s === 'Vo4'"}],
          "mark": {"type": "area", "color": "#f50a0a", "stroke": "#f50a0a", "strokeWidth": 1.2},
          "encoding": {
            "x": {"field": "t", "type": "quantitative", "scale": {"domain": [12, 34.86], "nice": false, "zero": false},
              "axis": {"values": [12,13,14,15,16,17,18,19,20,21,22,23,24,25,26,27,28,29,30,31,32,33,34], "tickCount": 100, "labelExpr": "datum.value % 2 === 0 && datum.value < 33 ? datum.label : ''", "title": null,
                "gridColor": {"condition": {"test": "datum.value % 2 === 0", "value": "#000"}, "value": "#cfcfcf"}}},
            "y": {"field": "lo", "type": "quantitative", "scale": {"domain": [39.9, 40.1], "range": [95, 0], "nice": false, "zero": false},
              "axis": {"title": "Vo4 / V", "titleY": 46, "values": [39.9,39.92,39.94,39.96,39.98,40,40.02,40.04,40.06,40.08,40.1], "tickCount": 100, "format": ".2~f", "labelExpr": "indexof(['39.94','40.02','40.1'], datum.label) >= 0 ? datum.label : ''"}},
            "y2": {"field": "hi"}
          }
        },
        {
          "data": {"values": [{}]},
          "mark": {"type": "rect", "fill": "white", "stroke": "#e8161c", "strokeWidth": 2},
          "encoding": {"x": {"datum": 33.036}, "x2": {"datum": 35.5}, "y": {"datum": 39.9821}, "y2": {"datum": 39.80}}
        },
        {
          "data": {"values": [{}]},
          "mark": {"type": "text", "text": "Vo4", "font": "Liberation Serif, Times New Roman, serif", "fontSize": 44, "align": "center", "baseline": "alphabetic", "color": "#000"},
          "encoding": {"x": {"datum": 33.98}, "y": {"datum": 39.8705}}
        }
      ]
    }
  ]
}
